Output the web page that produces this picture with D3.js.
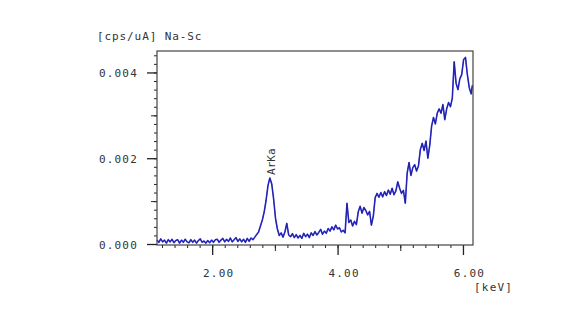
<!DOCTYPE html>
<html>
<head>
<meta charset="utf-8">
<script src="https://cdn.jsdelivr.net/npm/d3@7"></script>
<style>
  body { margin: 0; background: #fff; }
  text { font-family: "DejaVu Sans Mono", monospace; fill: #333; }
</style>
</head>
<body>
<div id="chart"></div>
<script>
var titleText = "[cps/uA] Na-Sc";
var unitText = "[keV]";
var peakLabel = "ArKa";
var peakEnergy = 2.92;

var xTicks = [2, 4, 6];
var xTickLabels = ["2.00", "4.00", "6.00"];
var yTicks = [0, 0.002, 0.004];
var yTickLabels = ["0.000", "0.002", "0.004"];

var energy = [
    1.12, 1.15, 1.18, 1.21, 1.24, 1.27, 1.30, 1.33, 1.36, 1.39,
    1.42, 1.45, 1.48, 1.51, 1.54, 1.57, 1.60, 1.63, 1.66, 1.69,
    1.72, 1.75, 1.78, 1.81, 1.84, 1.87, 1.90, 1.93, 1.96, 1.99,
    2.02, 2.05, 2.08, 2.11, 2.14, 2.17, 2.20, 2.23, 2.26, 2.29,
    2.32, 2.35, 2.38, 2.41, 2.44, 2.47, 2.50, 2.53, 2.56, 2.59,
    2.62, 2.65, 2.68, 2.71, 2.74, 2.77, 2.80, 2.83, 2.86, 2.89,
    2.92, 2.95, 2.98, 3.01, 3.04, 3.07, 3.10, 3.13, 3.16, 3.19,
    3.22, 3.25, 3.28, 3.31, 3.34, 3.37, 3.40, 3.43, 3.46, 3.49,
    3.52, 3.55, 3.58, 3.61, 3.64, 3.67, 3.70, 3.73, 3.76, 3.79,
    3.82, 3.85, 3.88, 3.91, 3.94, 3.97, 4.00, 4.03, 4.06, 4.09,
    4.12, 4.15, 4.18, 4.21, 4.24, 4.27, 4.30, 4.33, 4.36, 4.39,
    4.42, 4.45, 4.48, 4.51, 4.54, 4.57, 4.60, 4.63, 4.66, 4.69,
    4.72, 4.75, 4.78, 4.81, 4.84, 4.87, 4.90, 4.93, 4.96, 4.99,
    5.02, 5.05, 5.08, 5.11, 5.14, 5.17, 5.20, 5.23, 5.26, 5.29,
    5.32, 5.35, 5.38, 5.41, 5.44, 5.47, 5.50, 5.53, 5.56, 5.59,
    5.62, 5.65, 5.68, 5.71, 5.74, 5.77, 5.80, 5.83, 5.86, 5.89,
    5.92, 5.95, 5.98, 6.01, 6.04, 6.07, 6.10, 6.13, 6.15
];

var intensity = [
    0.00009, 0.00004, 0.00012, 0.00005, 0.00009, 0.00002, 0.00010, 0.00005, 0.00011, 0.00003,
    0.00008, 0.00010, 0.00002, 0.00009, 0.00004, 0.00011, 0.00005, 0.00003, 0.00010, 0.00004,
    0.00009, 0.00002, 0.00008, 0.00012, 0.00004, 0.00007, 0.00002, 0.00008, 0.00003, 0.00009,
    0.00004, 0.00010, 0.00011, 0.00004, 0.00009, 0.00013, 0.00005, 0.00011, 0.00006, 0.00014,
    0.00005, 0.00010, 0.00015, 0.00006, 0.00012, 0.00005, 0.00011, 0.00004, 0.00013, 0.00006,
    0.00014, 0.00010, 0.00016, 0.00022, 0.00028, 0.00042, 0.00056, 0.00075, 0.00102, 0.00136,
    0.00154, 0.00140, 0.00105, 0.00060, 0.00035, 0.00020, 0.00026, 0.00016, 0.00028, 0.00048,
    0.00021, 0.00017, 0.00024, 0.00015, 0.00022, 0.00014, 0.00020, 0.00013, 0.00025, 0.00017,
    0.00023, 0.00015, 0.00026, 0.00020, 0.00029, 0.00021, 0.00027, 0.00034, 0.00023, 0.00030,
    0.00025, 0.00036, 0.00030, 0.00040, 0.00033, 0.00044, 0.00035, 0.00038, 0.00028, 0.00032,
    0.00026, 0.00095, 0.00050, 0.00056, 0.00042, 0.00053, 0.00045, 0.00075, 0.00088, 0.00072,
    0.00085, 0.00078, 0.00068, 0.00076, 0.00044, 0.00065, 0.00108, 0.00118, 0.00109, 0.00120,
    0.00110, 0.00122, 0.00113, 0.00126, 0.00116, 0.00130, 0.00115, 0.00124, 0.00145, 0.00130,
    0.00118, 0.00125, 0.00095, 0.00165, 0.00190, 0.00160, 0.00178, 0.00185, 0.00170, 0.00182,
    0.00220, 0.00235, 0.00218, 0.00240, 0.00200, 0.00230, 0.00275, 0.00295, 0.00280, 0.00305,
    0.00315, 0.00305, 0.00325, 0.00290, 0.00315, 0.00330, 0.00320, 0.00340, 0.00425, 0.00375,
    0.00360, 0.00385, 0.00395, 0.00430, 0.00435, 0.00395, 0.00365, 0.00350, 0.00370
];

function drawChart() {
    var w = 567;
    var h = 336;
    var left = 157, right = 473, top = 51, bottom = 244;

    var x = d3.scaleLinear().domain([1.12, 6.16]).range([left, right]);
    var y = d3.scaleLinear().domain([0, 0.0045]).range([bottom, top]);

    var svg = d3.select("#chart")
                .append("svg")
                .attr("width", w)
                .attr("height", h);

    svg.append("rect")
       .attr("width", w)
       .attr("height", h)
       .attr("fill", "#fff");

    // ticks: minor, medium, then major with labels
    var xMinor = d3.range(1.2, 6.1, 0.2);
    var yMinor = d3.range(0, 0.00441, 0.0002);

    function addAxis(axis, tx, ty, width) {
        var g = svg.append("g")
                   .attr("transform", "translate(" + tx + "," + ty + ")")
                   .call(axis);
        g.select(".domain").remove();
        g.selectAll(".tick line")
         .attr("stroke", "#222")
         .attr("stroke-width", width);
        return g;
    }

    function blank() { return ""; }

    addAxis(d3.axisBottom(x).tickValues(xMinor).tickSize(3).tickFormat(blank), 0, bottom + 1, 1);
    addAxis(d3.axisBottom(x).tickValues([3, 5]).tickSize(6).tickFormat(blank), 0, bottom + 1, 1);
    var xg = addAxis(d3.axisBottom(x).tickValues(xTicks).tickSize(10)
                       .tickFormat(function (d, i) { return xTickLabels[i]; }), 0, bottom + 1, 1.3);
    xg.selectAll(".tick text")
      .attr("dx", 6)
      .attr("y", 0)
      .attr("dy", 32)
      .style("font-size", "11px")
      .style("letter-spacing", "1.2px");

    addAxis(d3.axisLeft(y).tickValues(yMinor).tickSize(3).tickFormat(blank), left, 0, 1);
    addAxis(d3.axisLeft(y).tickValues([0.001, 0.003]).tickSize(6).tickFormat(blank), left, 0, 1);
    var yg = addAxis(d3.axisLeft(y).tickValues(yTicks).tickSize(10)
                       .tickFormat(function (d, i) { return yTickLabels[i]; }), left, 0, 1.3);
    yg.selectAll(".tick text")
      .attr("x", -19)
      .attr("dy", "0.4em")
      .style("font-size", "11px")
      .style("letter-spacing", "1.2px");

    var pts = energy.map(function (e, i) { return [e, intensity[i]]; });

    var line = d3.line()
                 .x(function (d) { return x(d[0]); })
                 .y(function (d) { return y(d[1]); });

    svg.append("path")
       .datum(pts)
       .attr("d", line)
       .attr("fill", "none")
       .attr("stroke", "#3434e0")
       .attr("stroke-width", 1.6)
       .attr("stroke-linejoin", "round");

    svg.append("path")
       .datum(pts)
       .attr("d", line)
       .attr("fill", "none")
       .attr("stroke", "#15157a")
       .attr("stroke-width", 0.6);

    // plot frame
    svg.append("rect")
       .attr("x", left)
       .attr("y", top)
       .attr("width", right - left)
       .attr("height", bottom - top + 1)
       .attr("fill", "none")
       .attr("stroke", "#444")
       .attr("stroke-width", 1.2);

    svg.append("text")
       .attr("x", 97)
       .attr("y", 40)
       .style("font-size", "11px")
       .style("letter-spacing", "0.9px")
       .text(titleText);

    svg.append("text")
       .attr("x", 474)
       .attr("y", 291)
       .style("font-size", "11px")
       .style("letter-spacing", "1.2px")
       .text(unitText);

    var peakI = energy.indexOf(peakEnergy);
    svg.append("text")
       .attr("transform", "translate(" + (x(peakEnergy) + 5) + "," + (y(intensity[peakI]) - 3) + ") rotate(-90)")
       .style("font-size", "11px")
       .text(peakLabel);
}

drawChart();
</script>
</body>
</html>
